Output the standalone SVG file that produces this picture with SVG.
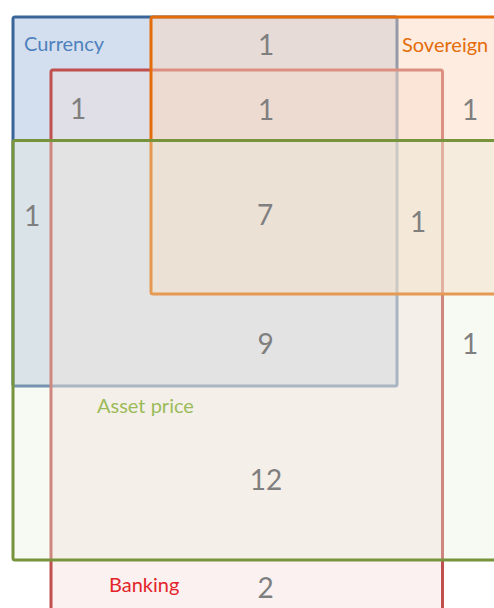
<svg xmlns="http://www.w3.org/2000/svg" width="494" height="608" viewBox="0 0 494 608">
<style>
.num{font-family:Lato,"Open Sans",sans-serif;font-size:28px;fill:#7f7f7f;text-anchor:middle}
.lbl{font-family:Lato,"Open Sans",sans-serif;font-size:20px}
rect{stroke-width:3}
</style>
<rect width="494" height="608" fill="#ffffff"/>
<g id="currency">
<rect x="13" y="17" width="384" height="369" rx="2" fill="#4f81bd" fill-opacity="0.25" stroke="#3a6598"/>
</g>
<g id="banking">
<rect x="51" y="70" width="391.5" height="600" rx="2" fill="rgb(242,221,220)" fill-opacity="0.42" stroke="#c0504d"/>
</g>
<g id="sovereign">
<rect x="151" y="17" width="400" height="277" rx="2" fill="rgb(251,215,188)" fill-opacity="0.48" stroke="#e46c0a"/>
</g>
<g id="asset-price">
<rect x="13" y="140.5" width="540" height="419.5" rx="2" fill="rgb(232,238,222)" fill-opacity="0.35" stroke="#77933c"/>
</g>
<g id="labels">
<text class="lbl" x="24" y="51" fill="#4f81bd">Currency</text>
<text class="lbl" x="402" y="52" fill="#e46c0a">Sovereign</text>
<text class="lbl" x="97" y="413" fill="#9bbb59">Asset price</text>
<text class="lbl" x="109" y="592" fill="#e3242b">Banking</text>
</g>
<g id="counts">
<text class="num" x="266" y="55">1</text>
<text class="num" x="78" y="119">1</text>
<text class="num" x="266" y="120">1</text>
<text class="num" x="470" y="120">1</text>
<text class="num" x="32" y="226">1</text>
<text class="num" x="265" y="225">7</text>
<text class="num" x="418" y="232">1</text>
<text class="num" x="265.5" y="354">9</text>
<text class="num" x="470" y="354">1</text>
<text class="num" x="266" y="490">12</text>
<text class="num" x="265.5" y="598">2</text>
</g>
</svg>
